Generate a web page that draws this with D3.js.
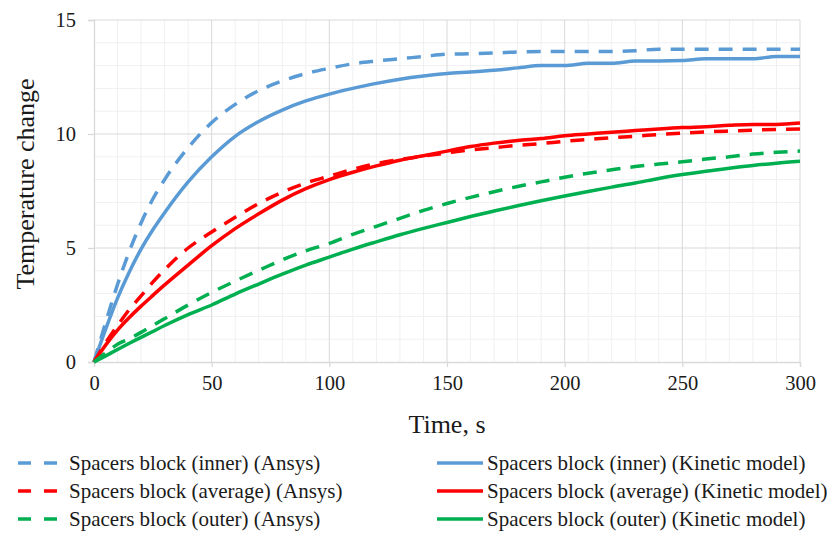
<!DOCTYPE html>
<html>
<head>
<meta charset="utf-8">
<script src="https://cdn.jsdelivr.net/npm/d3@7/dist/d3.min.js"></script>
<style>
  html, body { margin: 0; padding: 0; background: #fff; }
  svg text { font-family: "Liberation Serif", "Times New Roman", serif; fill: #1a1a1a; }
</style>
</head>
<body>
<svg id="chart" width="827" height="533"></svg>
<script>
// Time samples, s
const time = [0, 5, 10, 15, 20, 25, 30, 40, 50, 60, 70, 80, 90, 100, 110, 120, 130, 140, 150,
  160, 170, 180, 190, 200, 210, 220, 230, 240, 250, 260, 270, 280, 290, 300];

// Temperature change of the spacers block
const innerAnsys = [0, 1.75, 3.4, 4.85, 6.1, 7.15, 8.0, 9.4, 10.5, 11.3, 11.9, 12.33, 12.65, 12.88,
  13.08, 13.2, 13.3, 13.4, 13.5, 13.52, 13.55, 13.6, 13.62, 13.62, 13.62, 13.62, 13.65, 13.72, 13.72,
  13.72, 13.72, 13.72, 13.72, 13.72];
const innerKinetic = [0, 1.45, 2.8, 3.95, 4.95, 5.8, 6.55, 7.9, 9.0, 9.9, 10.55, 11.05, 11.45, 11.75,
  12.0, 12.22, 12.4, 12.54, 12.65, 12.72, 12.8, 12.9, 13.0, 13.0, 13.1, 13.1, 13.2, 13.2, 13.22,
  13.3, 13.3, 13.3, 13.4, 13.4];
const averageAnsys = [0, 0.85, 1.6, 2.3, 2.9, 3.5, 4.05, 5.0, 5.7, 6.35, 6.95, 7.45, 7.85, 8.15,
  8.45, 8.7, 8.88, 9.03, 9.17, 9.3, 9.4, 9.5, 9.58, 9.68, 9.76, 9.84, 9.9, 9.98, 10.04,
  10.09, 10.13, 10.17, 10.2, 10.22];
const averageKinetic = [0, 0.75, 1.4, 1.95, 2.45, 2.92, 3.38, 4.25, 5.1, 5.85, 6.5, 7.1, 7.6, 8.0,
  8.32, 8.6, 8.85, 9.05, 9.25, 9.45, 9.6, 9.72, 9.8, 9.92, 10.0, 10.08, 10.15, 10.22, 10.28,
  10.32, 10.38, 10.42, 10.42, 10.48];
const outerAnsys = [0, 0.4, 0.78, 1.02, 1.3, 1.6, 1.9, 2.5, 3.05, 3.55, 4.02, 4.48, 4.88, 5.2,
  5.6, 5.95, 6.3, 6.65, 6.95, 7.22, 7.47, 7.7, 7.9, 8.1, 8.28, 8.43, 8.57, 8.68, 8.78,
  8.9, 9.0, 9.12, 9.2, 9.25];
const outerKinetic = [0, 0.27, 0.55, 0.82, 1.08, 1.34, 1.6, 2.08, 2.5, 2.98, 3.42, 3.85, 4.25, 4.6,
  4.95, 5.27, 5.58, 5.86, 6.12, 6.38, 6.62, 6.85, 7.07, 7.28, 7.48, 7.67, 7.85, 8.05, 8.22,
  8.37, 8.5, 8.62, 8.72, 8.8];

const xTicks = [0, 50, 100, 150, 200, 250, 300];
const yTicks = [0, 5, 10, 15];

const seriesNames = [
  "Spacers block (inner) (Ansys)", "Spacers block (inner) (Kinetic model)",
  "Spacers block (average) (Ansys)", "Spacers block (average) (Kinetic model)",
  "Spacers block (outer) (Ansys)", "Spacers block (outer) (Kinetic model)"
];
const seriesValues = [innerAnsys, innerKinetic, averageAnsys, averageKinetic, outerAnsys, outerKinetic];
const seriesColors = ["#5B9BD5", "#5B9BD5", "#FF0000", "#FF0000", "#00B050", "#00B050"];
const seriesDashed = [true, false, true, false, true, false];

const svg = d3.select("#chart");
const plot = { left: 94, top: 20, right: 800, bottom: 362 };

const x = d3.scaleLinear().domain([0, 300]).range([plot.left, plot.right]);
const y = d3.scaleLinear().domain([0, 15]).range([plot.bottom, plot.top]);

// Minor grid
const grid = svg.append("g");
grid.selectAll("line.vminor").data(d3.range(10, 300, 10).filter(v => v % 50 !== 0)).join("line")
  .attr("x1", d => x(d)).attr("x2", d => x(d)).attr("y1", plot.top).attr("y2", plot.bottom)
  .attr("stroke", "#f0f0f0").attr("stroke-width", 1);
grid.selectAll("line.hminor").data(d3.range(1, 15, 1).filter(v => v % 5 !== 0)).join("line")
  .attr("y1", d => y(d)).attr("y2", d => y(d)).attr("x1", plot.left).attr("x2", plot.right)
  .attr("stroke", "#f0f0f0").attr("stroke-width", 1);

// Major grid
grid.selectAll("line.vmajor").data(xTicks.slice(1)).join("line")
  .attr("x1", d => x(d)).attr("x2", d => x(d)).attr("y1", plot.top).attr("y2", plot.bottom)
  .attr("stroke", "#d9d9d9").attr("stroke-width", 1);
grid.selectAll("line.hmajor").data(yTicks.slice(1)).join("line")
  .attr("y1", d => y(d)).attr("y2", d => y(d)).attr("x1", plot.left).attr("x2", plot.right)
  .attr("stroke", "#d9d9d9").attr("stroke-width", 1);

// Axes
const xAxis = svg.append("g").attr("transform", `translate(0,${plot.bottom})`)
  .call(d3.axisBottom(x).tickValues(xTicks).tickSize(5).tickPadding(8).tickFormat(d3.format("d")));
const yAxis = svg.append("g").attr("transform", `translate(${plot.left},0)`)
  .call(d3.axisLeft(y).tickValues(yTicks).tickSize(6).tickPadding(12).tickFormat(d3.format("d")));
[xAxis, yAxis].forEach(a => {
  a.select(".domain").attr("stroke", "#d9d9d9").attr("stroke-width", 1.3);
  a.selectAll(".tick line").attr("stroke", "#d9d9d9").attr("stroke-width", 1.3);
  a.selectAll(".tick text").attr("font-size", 20.5).attr("fill", "#1a1a1a")
    .style("font-family", "'Liberation Serif', 'Times New Roman', serif");
});

// Axis titles
svg.append("text").attr("x", x(150)).attr("y", 433).attr("text-anchor", "middle")
  .attr("font-size", 26).text("Time, s");
svg.append("text").attr("transform", `translate(34,184) rotate(-90)`)
  .attr("text-anchor", "middle").attr("font-size", 26).text("Temperature change");

// Curves
const line = d3.line().x(d => x(d[0])).y(d => y(d[1])).curve(d3.curveMonotoneX);
const curves = svg.append("g");
seriesValues.forEach((vals, i) => {
  curves.append("path")
    .datum(time.map((t, k) => [t, vals[k]]))
    .attr("fill", "none")
    .attr("stroke", seriesColors[i])
    .attr("stroke-width", 3.5)
    .attr("stroke-dasharray", seriesDashed[i] ? "14,10" : null)
    .attr("d", line);
});

// Legend: Ansys in the left column, kinetic model in the right column
const legend = svg.append("g");
const rowY = [463, 491, 519];
seriesNames.forEach((name, i) => {
  const col = i % 2, row = Math.floor(i / 2);
  const lx = col === 0 ? 18 : 437;
  const lw = col === 0 ? 39 : 46;
  const g = legend.append("g").attr("transform", `translate(${lx},${rowY[row]})`);
  g.append("line").attr("x1", 0).attr("x2", lw).attr("y1", 0).attr("y2", 0)
    .attr("stroke", seriesColors[i]).attr("stroke-width", 3.5)
    .attr("stroke-dasharray", seriesDashed[i] ? "13,13" : null);
  g.append("text").attr("x", col === 0 ? 51 : 50).attr("y", 7).attr("font-size", 21).text(name);
});
</script>
</body>
</html>
